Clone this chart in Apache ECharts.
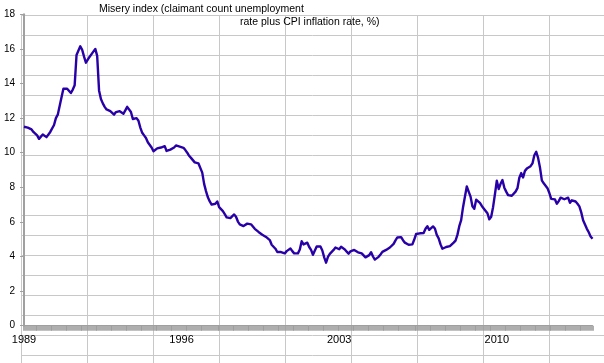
<!DOCTYPE html>
<html>
<head>
<meta charset="utf-8">
<script src="https://cdn.jsdelivr.net/npm/echarts@6/dist/echarts.min.js"></script>
<style>
html,body{margin:0;padding:0;background:#fff;}
#chart{width:604px;height:363px;}
</style>
</head>
<body>
<div id="chart"></div>
<script>
// Monthly misery index values, starting January 1989
var miseryIndex = [
  11.5, 11.4, 11.45, 11.4, 11.35, 11.2, 11.1, 11.0, 10.8, 10.85, 11.05, 10.95,
  10.9, 11.0, 11.2, 11.3, 11.6, 12.0, 12.2, 12.1, 13.2, 13.7, 13.75, 13.7,
  13.65, 13.45, 13.65, 13.9, 15.65, 15.7, 16.15, 15.95, 15.55, 15.2, 15.2, 15.55,
  15.7, 15.65, 16.0, 15.6, 13.6, 13.1, 12.85, 12.65, 12.5, 12.45, 12.4, 12.45,
  12.2, 12.35, 12.45, 12.4, 12.35, 12.25, 12.45, 12.65, 12.75, 12.35, 11.95, 11.85,
  12.0, 11.85, 11.45, 11.15, 11.0, 10.85, 10.6, 10.5, 10.3, 10.08, 10.16, 10.25,
  10.28, 10.3, 10.35, 10.38, 10.1, 10.19, 10.18, 10.2, 10.3, 10.42, 10.37, 10.35,
  10.3, 10.28, 10.15, 10.0, 9.82, 9.7, 9.57, 9.44, 9.38, 9.38, 9.3, 8.85,
  8.2, 7.78, 7.42, 7.18, 7.0, 6.92, 7.05, 7.18, 6.85, 6.74, 6.62, 6.45,
  6.26, 6.19, 6.22, 6.32, 6.43, 6.3, 6.02, 5.86, 5.79, 5.76, 5.77, 5.9,
  5.8, 5.86, 5.9, 5.6, 5.5, 5.42, 5.35, 5.26, 5.17, 5.13, 5.08, 4.95,
  4.68, 4.57, 4.45, 4.26, 4.15, 4.26, 4.35, 4.18, 4.31, 4.42, 4.46, 4.31,
  4.18, 4.08, 4.18, 4.4, 4.88, 4.7, 4.8, 4.8, 4.55, 4.38, 4.1, 4.07,
  4.58, 4.68, 4.58, 4.35, 3.95, 3.64, 3.98, 4.15, 4.04, 4.38, 4.52, 4.63,
  4.42, 4.56, 4.53, 4.41, 4.28, 4.16, 4.3, 4.4, 4.38, 4.28, 4.24, 4.2,
  4.18, 4.14, 3.95, 3.92, 4.08, 4.25, 4.0, 3.82, 3.78, 3.98, 4.12, 4.27,
  4.24, 4.38, 4.47, 4.52, 4.59, 4.73, 4.93, 5.1, 5.17, 5.12, 4.94, 4.8,
  4.7, 4.68, 4.75, 4.7, 4.98, 5.3, 5.4, 5.34, 5.33, 5.36, 5.6, 5.75,
  5.54, 5.62, 5.74, 5.62, 5.25, 5.05, 4.7, 4.45, 4.43, 4.55, 4.64, 4.6,
  4.68, 4.8, 4.92, 5.25, 5.75, 6.1, 6.85, 7.45, 8.05, 7.75, 7.46, 6.9,
  6.76, 7.28, 7.35, 7.1, 6.92, 6.78, 6.68, 6.5, 6.15, 6.3, 6.85, 7.6,
  8.38, 7.9, 8.2, 8.42, 7.98, 7.75, 7.55, 7.5, 7.51, 7.6, 7.75, 7.95,
  8.55, 8.82, 8.57, 8.95, 9.08, 9.0, 9.22, 9.38, 9.85, 10.05, 9.7, 9.15,
  8.4, 8.23, 8.32, 7.95, 7.67, 7.33, 7.27, 7.3, 7.05, 7.2, 7.4, 7.37,
  7.31, 7.35, 7.4, 7.1, 7.25, 7.3, 7.18, 7.05, 6.9, 6.55, 6.1, 5.85,
  5.6, 5.4, 5.15, 5.02
];
var startYear = 1989;
var yearLabels = ['1989', '1996', '2003', '2010'];
var yTicks = [0, 2, 4, 6, 8, 10, 12, 14, 16, 18];
var titleLines = ['Misery index (claimant count unemployment', 'rate plus CPI inflation rate, %)'];

var months = [];
for (var k = 0; k < miseryIndex.length; k++) {
  var yr = startYear + Math.floor(k / 12);
  var mo = (k % 12) + 1;
  months.push(yr + '-' + (mo < 10 ? '0' + mo : mo));
}

var chart = echarts.init(document.getElementById('chart'), null, {renderer: 'canvas'});
var FONT = '"Liberation Sans", Arial, Helvetica, sans-serif';
chart.setOption({
  animation: false,
  backgroundColor: '#ffffff',
  title: [
    {text: titleLines[0], left: 99, top: 4, padding: 0, textStyle: {fontFamily: FONT, fontSize: 10.5, fontWeight: 'normal', color: '#000'}},
    {text: titleLines[1], left: 240, top: 17, padding: 0, textStyle: {fontFamily: FONT, fontSize: 10.5, fontWeight: 'normal', color: '#000'}}
  ],
  grid: [
    {left: 24, top: 14.3, right: 11.5, bottom: 37.3},
    {left: 21.3, top: 15.3, right: 0, bottom: 0}
  ],
  xAxis: [
    {
      type: 'category', gridIndex: 0, data: months, boundaryGap: false,
      axisLine: {show: true, lineStyle: {color: '#a0a0a0', width: 1}},
      axisTick: {show: true, interval: 0, length: 5, lineStyle: {color: '#9a9a9a', width: 1.6}},
      axisLabel: {
        interval: function (idx, val) { return yearLabels.indexOf(String(val).slice(0, 4)) >= 0 && val.slice(5) === '01'; },
        formatter: function (val) { return val.slice(0, 4); },
        fontFamily: FONT, fontSize: 11, color: '#000', margin: 9
      },
      splitLine: {show: false}
    },
    {
      type: 'value', gridIndex: 1, min: 0, max: 582.7, interval: 66,
      axisLine: {show: false}, axisTick: {show: false}, axisLabel: {show: false},
      splitLine: {show: true, lineStyle: {color: '#c8c8c8', width: 1}}
    }
  ],
  yAxis: [
    {
      type: 'value', gridIndex: 0, min: yTicks[0], max: yTicks[yTicks.length - 1], interval: 2,
      axisLine: {show: true, lineStyle: {color: '#a0a0a0', width: 2}},
      axisTick: {show: true, length: 4, lineStyle: {color: '#a0a0a0', width: 1}},
      axisLabel: {fontFamily: FONT, fontSize: 10, color: '#000', margin: 9},
      splitLine: {show: false}
    },
    {
      type: 'value', gridIndex: 1, inverse: true, min: 0, max: 347.7, interval: 20,
      axisLine: {show: false}, axisTick: {show: false}, axisLabel: {show: false},
      splitLine: {show: true, lineStyle: {color: '#c8c8c8', width: 1}}
    }
  ],
  series: [{
    type: 'line', xAxisIndex: 0, yAxisIndex: 0, data: miseryIndex,
    showSymbol: false, symbol: 'none', z: 5,
    lineStyle: {color: '#2800a8', width: 2.4, join: 'round'}
  }]
});
</script>
</body>
</html>
